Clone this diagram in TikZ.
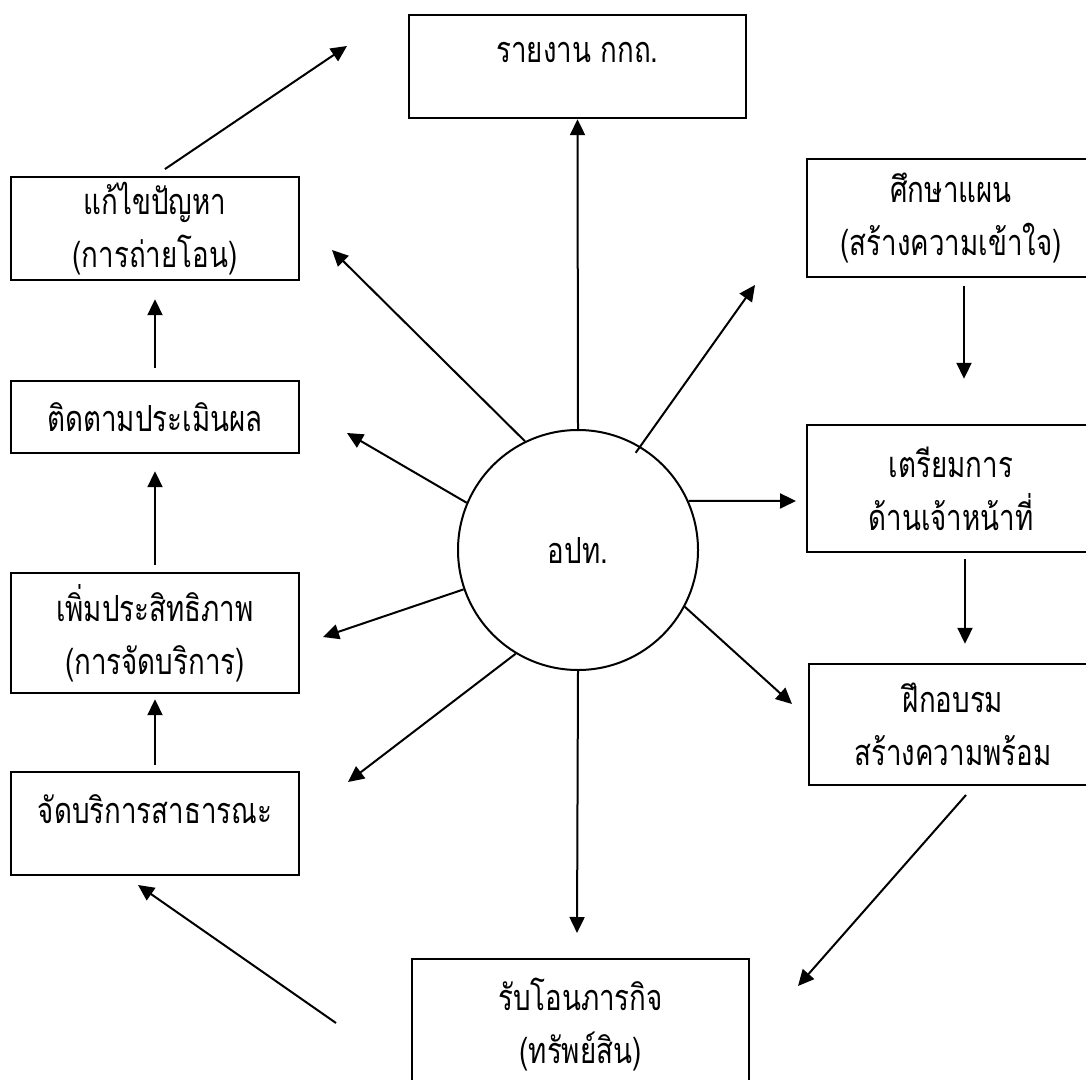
\documentclass[tikz,border=0pt]{standalone}
\usepackage{fontspec}
\newfontfamily\thaifont[Script=Thai,FakeStretch=0.77]{Loma}
\usetikzlibrary{arrows.meta}

\tikzset{
  box/.style={draw, line width=1.2pt, minimum width=144pt, inner sep=0pt, align=center,
    font=\thaifont\fontsize{18}{26.5}\selectfont},
  upper/.style={text depth=14pt},
  hub/.style={draw, circle, line width=1pt, minimum size=120pt, inner sep=0pt,
    font=\thaifont\fontsize{18}{26.5}\selectfont},
  ray/.style={line width=1pt, -{Triangle[length=8pt,width=7.5pt]}}
}

\begin{document}
\begin{tikzpicture}[x=0.5pt,y=-0.5pt]
\useasboundingbox (0,0) rectangle (1086,1080);
\clip (0,0) rectangle (1086,1080);

% centre
\node[hub] (apt) at (578,550) {อปท.};

% boxes
\node[box, upper, minimum width=168.5pt, minimum height=51.5pt] (report) at (577.5,66.5) {รายงาน กกถ.};
\node[box, minimum height=51.5pt] (fix) at (155,228.5) {แก้ไขปัญหา\\(การถ่ายโอน)};
\node[box, minimum height=36pt] (track) at (155,417) {ติดตามประเมินผล};
\node[box, minimum height=60pt] (boost) at (155,633) {เพิ่มประสิทธิภาพ\\(การจัดบริการ)};
\node[box, upper, minimum height=51.5pt] (serve) at (155,823.5) {จัดบริการสาธารณะ};
\node[box, minimum height=59pt] (study) at (951,218) {ศึกษาแผน\\(สร้างความเข้าใจ)};
\node[box, minimum height=63.5pt] (prep) at (951,488.5) {เตรียมการ\\ด้านเจ้าหน้าที่};
\node[box, minimum height=60.5pt] (train) at (953,724.5) {ฝึกอบรม\\สร้างความพร้อม};
\node[box, minimum width=168.5pt, minimum height=66pt] (take) at (580.5,1025) {รับโอนภารกิจ\\(ทรัพย์สิน)};

% free ends
\coordinate (a1) at (332,250);
\coordinate (a2) at (347,433);
\coordinate (a3) at (323,637);
\coordinate (a4) at (348,782);
\coordinate (a5) at (577,933);
\coordinate (a6) at (792,704);
\coordinate (a7) at (796,501);
\coordinate (a8) at (755,285);
\coordinate (repin) at (347,46);
\coordinate (takeout) at (336,1023);
\coordinate (servein) at (138,885);
\coordinate (trainout) at (966,795);
\coordinate (takein) at (798,986);

% rays out of the centre
\draw[ray] (apt.north) -- (report.south);
\draw[ray] (apt.116.6) -- (a1);
\draw[ray] (apt.157.2) -- (a2);
\draw[ray] (apt.199.2) -- (a3);
\draw[ray] (apt.239.4) -- (a4);
\draw[ray] (apt.south) -- (a5);
\draw[ray] (apt.332) -- (a6);
\draw[ray] (apt.24) -- (a7);
\draw[ray, shorten <=-4pt] (apt.59.6) -- (a8);

% the cycle round the outside
\draw[ray, shorten <=6pt] (fix.north) -- (repin);
\draw[ray, shorten <=6pt, shorten >=9pt] (track.north) -- (fix.south);
\draw[ray, shorten <=3.5pt, shorten >=8.5pt] (boost.north) -- (track.south);
\draw[ray, shorten <=3pt, shorten >=2.5pt] (serve.north) -- (boost.south);
\draw[ray] (takeout) -- (servein);
\draw[ray, shorten <=4pt, shorten >=22.5pt] ([xshift=6.5pt]study.south) -- ([xshift=6.5pt]prep.north);
\draw[ray, shorten <=3pt, shorten >=9.5pt] ([xshift=7pt]prep.south) -- ([xshift=6pt]train.north);
\draw[ray] (trainout) -- (takein);

\end{tikzpicture}
\end{document}
